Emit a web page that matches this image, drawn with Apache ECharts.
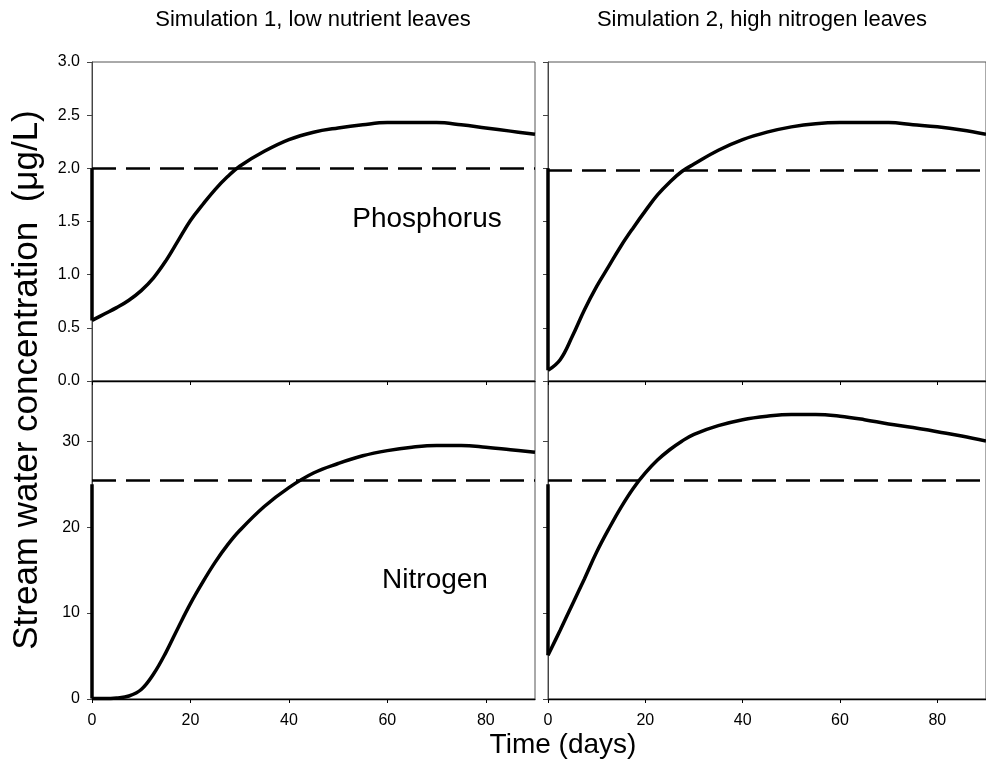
<!DOCTYPE html>
<html>
<head>
<meta charset="utf-8">
<script src="https://cdn.jsdelivr.net/npm/echarts@6/dist/echarts.min.js"></script>
<style>
  html, body { margin: 0; padding: 0; background: #fff; }
  #main { width: 986px; height: 761px; }
</style>
</head>
<body>
<div id="main"></div>
<script>
  // time axis (days) shared by all four simulations
  var days = [0, 2.5, 5, 7.5, 10, 12.5, 15, 17.5, 20, 22.5, 25, 27.5, 30, 35, 40, 45, 50, 55, 60, 65, 70, 75, 80, 85, 90];

  // phosphorus (ug/L)
  var phosLow  = [0.57, 0.63, 0.69, 0.76, 0.85, 0.97, 1.13, 1.32, 1.51, 1.66, 1.80, 1.92, 2.02, 2.16, 2.27, 2.34, 2.38, 2.41, 2.43, 2.43, 2.43, 2.41, 2.38, 2.35, 2.32];
  var phosHigh = [0.10, 0.20, 0.42, 0.67, 0.89, 1.08, 1.27, 1.44, 1.60, 1.75, 1.87, 1.97, 2.04, 2.17, 2.27, 2.34, 2.39, 2.42, 2.43, 2.43, 2.43, 2.41, 2.39, 2.36, 2.32];

  // nitrogen (ug/L)
  var nitLow  = [0.05, 0.05, 0.12, 0.35, 1.1, 2.9, 5.4, 8.3, 11.1, 13.6, 15.9, 17.9, 19.6, 22.4, 24.6, 26.3, 27.4, 28.3, 28.9, 29.3, 29.5, 29.5, 29.3, 29.0, 28.7];
  var nitHigh = [5.1, 8.0, 11.0, 14.0, 17.1, 19.8, 22.3, 24.5, 26.3, 27.8, 29.0, 30.0, 30.8, 31.8, 32.5, 32.9, 33.1, 33.1, 32.9, 32.5, 32.0, 31.6, 31.1, 30.6, 30.0];

  // starting concentration (day 0, before the drop) and the dashed reference level
  var startVal  = [2.0, 2.0, 25.0, 25.0];
  var threshold = [2.0, 1.98, 25.4, 25.4];

  var curves = [phosLow, phosHigh, nitLow, nitHigh];

  var xTicks = [0, 20, 40, 60, 80];
  var phosTicks = [0, 0.5, 1, 1.5, 2, 2.5, 3];
  var nitTicks = [0, 10, 20, 30];

  var panelTitles = ['Simulation 1, low nutrient leaves', 'Simulation 2, high nitrogen leaves'];

  var font = '"Liberation Sans", Arial, Helvetica, sans-serif';

  function pairs(ys) {
    return days.map(function (d, i) { return [d, ys[i]]; });
  }

  var grids = [
    {left: 92, top: 62, width: 443, height: 319},
    {left: 548, top: 62, width: 443, height: 319},
    {left: 92, top: 381, width: 443, height: 318},
    {left: 548, top: 381, width: 443, height: 318}
  ].map(function (g) {
    g.show = true;
    g.borderColor = '#555';
    g.borderWidth = 1;
    return g;
  });

  var xAxes = [], yAxes = [], series = [];
  for (let i = 0; i < 4; i++) {
    let bottomRow = i >= 2;
    let leftCol = i % 2 === 0;
    xAxes.push({
      type: 'value', gridIndex: i, min: 0, max: 90,
      splitLine: {show: false},
      axisLine: {show: true, onZero: false, lineStyle: {color: '#000', width: 1.3}},
      axisTick: {show: true, length: 4, customValues: xTicks, lineStyle: {color: '#000'}},
      axisLabel: {show: bottomRow, customValues: xTicks, margin: 14, color: '#000', fontSize: 16, fontFamily: font}
    });
    let ticks = bottomRow ? nitTicks : phosTicks;
    yAxes.push({
      type: 'value', gridIndex: i, min: 0, max: bottomRow ? 37 : 3,
      splitLine: {show: false},
      axisLine: {show: true, onZero: false, lineStyle: {color: '#444', width: 1}},
      axisTick: {show: true, length: 5, customValues: ticks, lineStyle: {color: '#444'}},
      axisLabel: {
        show: leftCol, customValues: ticks, margin: 12, color: '#000', fontSize: 16, fontFamily: font,
        formatter: function (v) { return bottomRow ? String(v) : v.toFixed(1); }
      }
    });

    // simulated concentration
    series.push({
      type: 'line', xAxisIndex: i, yAxisIndex: i,
      data: pairs(curves[i]), smooth: 0.4, symbol: 'none',
      lineStyle: {color: '#000', width: 3.5},
      markLine: {
        silent: true, symbol: 'none', label: {show: false},
        lineStyle: {color: '#000', width: 2.5, type: [24, 10]},
        data: [{yAxis: threshold[i]}]
      },
      z: 3
    });
    // drop at day 0
    series.push({
      type: 'line', xAxisIndex: i, yAxisIndex: i,
      data: [[0, startVal[i]], [0, curves[i][0]]], symbol: 'none',
      lineStyle: {color: '#000', width: 3.5}, z: 3
    });
  }

  var chart = echarts.init(document.getElementById('main'));
  chart.setOption({
    animation: false,
    backgroundColor: '#fff',
    grid: grids,
    xAxis: xAxes,
    yAxis: yAxes,
    series: series,
    graphic: [
      {type: 'text', x: 313, y: 20, style: {text: panelTitles[0], font: '22px ' + font, fill: '#000', align: 'center', verticalAlign: 'middle'}},
      {type: 'text', x: 762, y: 20, style: {text: panelTitles[1], font: '22px ' + font, fill: '#000', align: 'center', verticalAlign: 'middle'}},
      {type: 'text', x: 427, y: 219, style: {text: 'Phosphorus', font: '28px ' + font, fill: '#000', align: 'center', verticalAlign: 'middle'}},
      {type: 'text', x: 435, y: 580, style: {text: 'Nitrogen', font: '28px ' + font, fill: '#000', align: 'center', verticalAlign: 'middle'}},
      {type: 'text', x: 27, y: 380, rotation: Math.PI / 2, style: {text: 'Stream water concentration  (μg/L)', font: '35px ' + font, fill: '#000', align: 'center', verticalAlign: 'middle'}},
      {type: 'text', x: 563, y: 745, style: {text: 'Time (days)', font: '28px ' + font, fill: '#000', align: 'center', verticalAlign: 'middle'}}
    ]
  });
</script>
</body>
</html>
